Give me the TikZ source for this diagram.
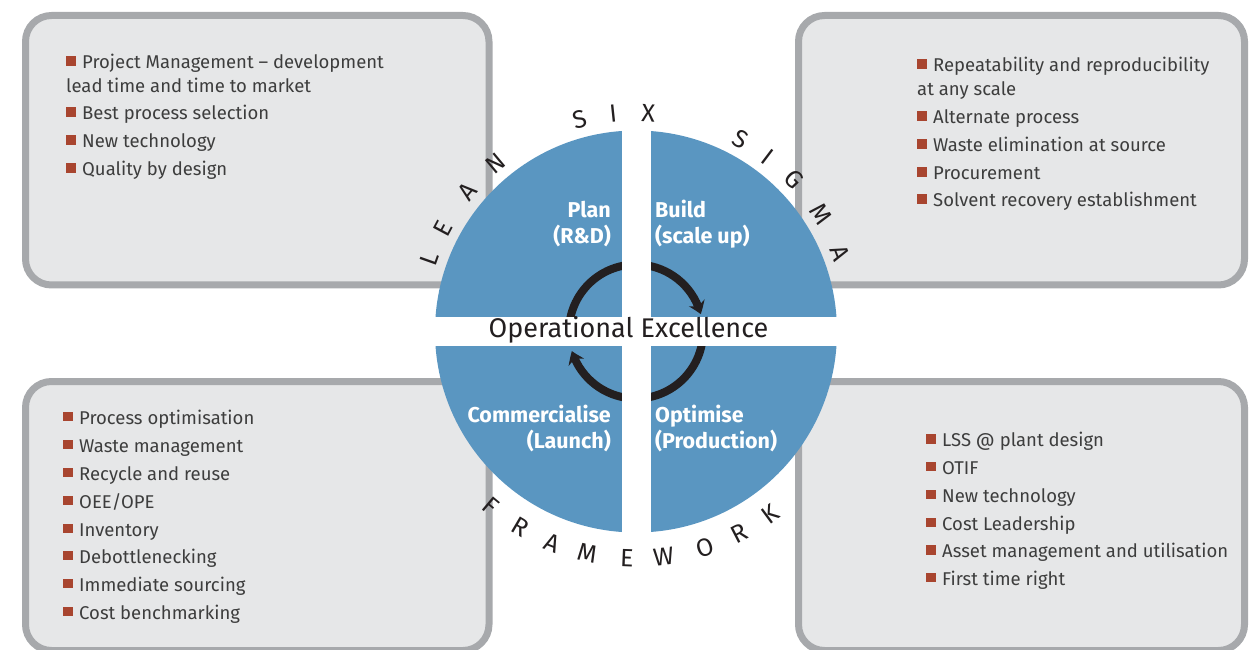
\documentclass[tikz,border=0pt]{standalone}
\usepackage{fontspec}
\setmainfont{Fira Sans}
\usetikzlibrary{arrows.meta,bending}
\definecolor{boxfill}{HTML}{E6E7E8}
\definecolor{boxline}{HTML}{A7A9AC}
\definecolor{blu}{HTML}{5A96C1}
\definecolor{bul}{HTML}{A8452F}
\definecolor{txt}{HTML}{3D3D3D}
\definecolor{ink}{HTML}{231F20}
\newcommand{\bsq}{{\color{bul}\rule[3pt]{9.5pt}{9.5pt}}\hspace{6.5pt}}
\begin{document}
\begin{tikzpicture}[x=1pt,y=1pt,
  panel/.style={draw=boxline, line width=7pt, fill=boxfill, rounded corners=26pt},
  item/.style={anchor=base west, inner sep=0pt, text=txt, font=\fontsize{18.5}{22}\selectfont},
  lbl/.style={inner sep=0pt, text=white, font=\bfseries\fontsize{21.5}{24}\selectfont},
  lblL/.style={lbl, anchor=base east},
  lblR/.style={lbl, anchor=base west},
  ring/.style={draw=ink, line width=8pt},
  gapband/.style={fill=white, draw=none},
  letter/.style={inner sep=0pt, text=ink, font=\fontsize{25}{25}\selectfont}]
\useasboundingbox (0,0) rectangle (1259,649);
\begin{scope}
\clip (0,0) rectangle (1259,649);
% panels
\path[panel] (25.5,633.5) rectangle (489,364);
\path[panel] (798.5,633.5) rectangle (1244.5,364);
\path[panel] (25.5,267.5) rectangle (489,-1.5);
\path[panel] (798.5,267.5) rectangle (1244.5,-1.5);
% wheel
\coordinate (c) at (636,317.5);
\fill[blu] (c) circle[radius=201];
\draw[ring,-{Stealth[bend,length=12pt,width=17pt]}] ([shift={(180:67)}]c) arc[start angle=180,end angle=15,radius=67];
\draw[ring,-{Stealth[bend,length=12pt,width=17pt]}] ([shift={(0:67)}]c) arc[start angle=0,end angle=-163,radius=67];
\fill[gapband] (621.7,115.5) rectangle (650.7,519.5);
\fill[gapband] (430,303.3) rectangle (842,332.3);
\end{scope}
% centre text
\node[anchor=base, inner sep=0pt, text=ink, font=\fontsize{27}{27}\selectfont] (oe) at (628.5,312) {Operational Excellence};
% quadrant labels
\node[lblL] (plan) at (611,431) {Plan};
\node[lblL] (rd) at (611,405) {(R\&D)};
\node[lblR] (build) at (655,431) {Build};
\node[lblR] (scale) at (655,405) {(scale up)};
\node[lblL] (comm) at (611,226.3) {Commercialise};
\node[lblL] (launch) at (611,201) {(Launch)};
\node[lblR] (opt) at (655,226.3) {Optimise};
\node[lblR] (prod) at (655,201) {(Production)};
% arc letters
\foreach \a/\ch [count=\i] in {160.5/L,152/E,140.4/A,129.8/N,104.9/S,96/I,86.8/X,61.4/S,52.9/I,43.9/G,32.4/M,20.9/A}
  \node[letter, rotate=\a-90] (top\i) at ([shift={(\a:219)}]c) {\ch};
\foreach \a/\ch [count=\i] in {230.1/F,239.5/R,248.5/A,257.6/M,267.7/E,277/W,287.7/O,297.2/R,306.4/K}
  \node[letter, rotate=\a+90] (bot\i) at ([shift={(\a:227)}]c) {\ch};
% top-left list
\node[item] (tl1) at (66,580) {\bsq Project Management – development};
\node[item] (tl2) at (66,556) {lead time and time to market};
\node[item] (tl3) at (66,529) {\bsq Best process selection};
\node[item] (tl4) at (66,501) {\bsq New technology};
\node[item] (tl5) at (66,473) {\bsq Quality by design};
% top-right list
\node[item] (tr1) at (917,577) {\bsq Repeatability and reproducibility};
\node[item] (tr2) at (917,553) {at any scale};
\node[item] (tr3) at (917,525) {\bsq Alternate process};
\node[item] (tr4) at (917,497) {\bsq Waste elimination at source};
\node[item] (tr5) at (917,469) {\bsq Procurement};
\node[item] (tr6) at (917,442) {\bsq Solvent recovery establishment};
% bottom-left list
\node[item] (bl1) at (63,225) {\bsq Process optimisation};
\node[item] (bl2) at (63,197) {\bsq Waste management};
\node[item] (bl3) at (63,169) {\bsq Recycle and reuse};
\node[item] (bl4) at (63,141) {\bsq OEE/OPE};
\node[item] (bl5) at (63,113) {\bsq Inventory};
\node[item] (bl6) at (63,86) {\bsq Debottlenecking};
\node[item] (bl7) at (63,58) {\bsq Immediate sourcing};
\node[item] (bl8) at (63,30) {\bsq Cost benchmarking};
% bottom-right list
\node[item] (br1) at (926,202.3) {\bsq LSS @ plant design};
\node[item] (br2) at (926,175) {\bsq OTIF};
\node[item] (br3) at (926,146.7) {\bsq New technology};
\node[item] (br4) at (926,119) {\bsq Cost Leadership};
\node[item] (br5) at (926,91.3) {\bsq Asset management and utilisation};
\node[item] (br6) at (926,64) {\bsq First time right};
\end{tikzpicture}
\end{document}
